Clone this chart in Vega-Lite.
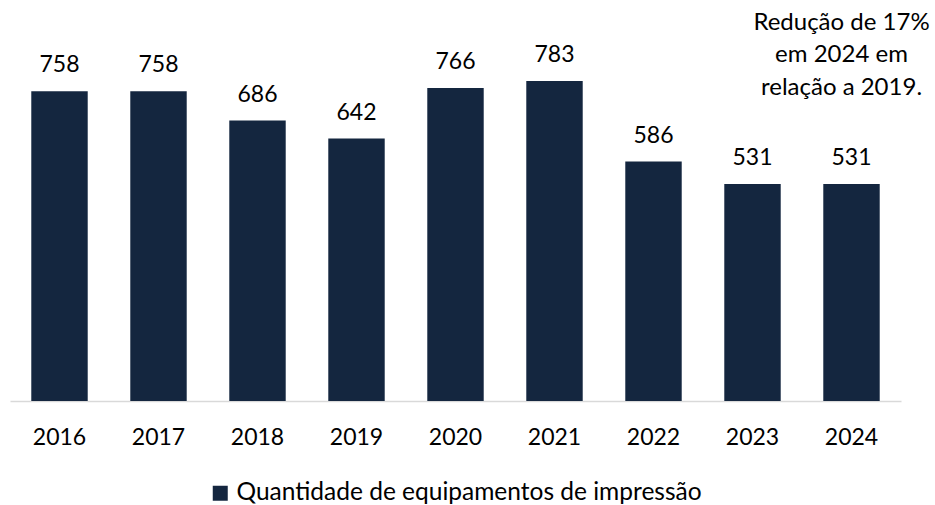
{
  "$schema": "https://vega.github.io/schema/vega-lite/v6.json",
  "width": 891,
  "height": 401,
  "autosize": "none",
  "padding": {"left": 10, "top": 0, "right": 34, "bottom": 104},
  "background": "white",
  "config": {
    "view": {"stroke": null},
    "font": "Lato",
    "text": {"font": "Lato"}
  },
  "data": {
    "values": [
      {"ano": "2016", "valor": 758, "serie": "Quantidade de equipamentos de impressão"},
      {"ano": "2017", "valor": 758, "serie": "Quantidade de equipamentos de impressão"},
      {"ano": "2018", "valor": 686, "serie": "Quantidade de equipamentos de impressão"},
      {"ano": "2019", "valor": 642, "serie": "Quantidade de equipamentos de impressão"},
      {"ano": "2020", "valor": 766, "serie": "Quantidade de equipamentos de impressão"},
      {"ano": "2021", "valor": 783, "serie": "Quantidade de equipamentos de impressão"},
      {"ano": "2022", "valor": 586, "serie": "Quantidade de equipamentos de impressão"},
      {"ano": "2023", "valor": 531, "serie": "Quantidade de equipamentos de impressão"},
      {"ano": "2024", "valor": 531, "serie": "Quantidade de equipamentos de impressão"}
    ]
  },
  "encoding": {
    "x": {
      "field": "ano",
      "type": "nominal",
      "sort": null,
      "scale": {"paddingInner": 0.43, "paddingOuter": 0.215},
      "axis": {
        "title": null,
        "labelAngle": 0,
        "labelFont": "Lato",
        "labelFontSize": 23,
        "labelColor": "#000000",
        "labelBaseline": "alphabetic",
        "labelPadding": 43,
        "ticks": false,
        "tickSize": 0,
        "domainColor": "#d9d9d9",
        "domainWidth": 1.5
      }
    },
    "y": {
      "field": "valor",
      "type": "quantitative",
      "scale": {"domain": [0, 981], "nice": false},
      "axis": null
    }
  },
  "layer": [
    {
      "mark": {"type": "bar", "color": "#14263f"},
      "encoding": {
        "color": {
          "field": "serie",
          "type": "nominal",
          "scale": {"range": ["#14263f"]},
          "legend": {
            "title": null,
            "orient": "none",
            "legendX": 198,
            "legendY": 481,
            "padding": 0,
            "symbolType": "square",
            "symbolSize": 225,
            "symbolStrokeWidth": 0,
            "symbolOpacity": 1,
            "labelFont": "Lato",
            "labelFontSize": 24.5,
            "labelColor": "#000000",
            "labelOffset": 4,
            "labelLimit": 800
          }
        }
      }
    },
    {
      "mark": {"type": "text", "baseline": "alphabetic", "dy": -18.7, "fontSize": 23, "font": "Lato", "color": "#000000"},
      "encoding": {"text": {"field": "valor", "type": "quantitative"}}
    },
    {
      "data": {"values": [{"ano": "2024", "pos": 908, "nota": ["Redução de 17%", "em 2024 em", "relação a 2019."]}]},
      "mark": {"type": "text", "baseline": "alphabetic", "align": "center", "dx": -10, "fontSize": 24, "lineHeight": 32.5, "font": "Lato", "color": "#000000"},
      "encoding": {
        "x": {"field": "ano", "type": "nominal"},
        "y": {"field": "pos", "type": "quantitative"},
        "text": {"field": "nota"}
      }
    }
  ]
}
